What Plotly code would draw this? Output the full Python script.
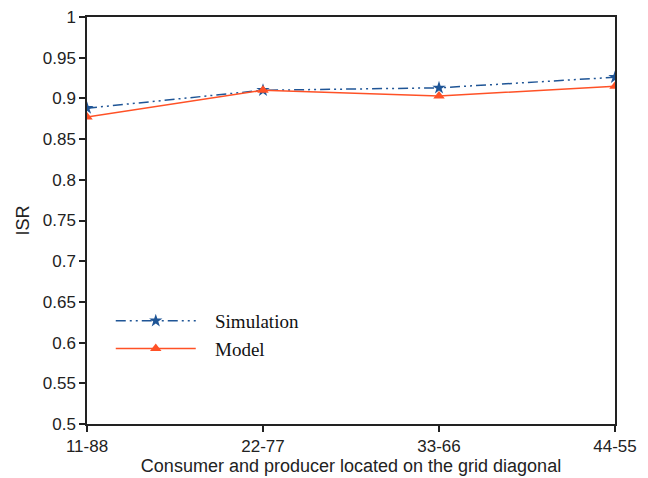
import plotly.graph_objects as go

# Consumer/producer position pairs along the grid diagonal
pairs = ["11-88", "22-77", "33-66", "44-55"]
simulation_isr = [0.888, 0.910, 0.913, 0.926]
model_isr = [0.877, 0.910, 0.903, 0.915]
series_names = ["Simulation", "Model"]

y_ticks = [0.5, 0.55, 0.6, 0.65, 0.7, 0.75, 0.8, 0.85, 0.9, 0.95, 1.0]
y_tick_text = ["0.5", "0.55", "0.6", "0.65", "0.7", "0.75", "0.8", "0.85", "0.9", "0.95", "1"]

BLUE = "#1f5596"
ORANGE = "#ff5126"
GAP = "\u00a0\u00a0\u00a0"  # extra room between legend symbol and label

fig = go.Figure()
fig.add_trace(go.Scatter(
    x=pairs, y=simulation_isr, name=GAP + series_names[0], mode="lines+markers",
    line=dict(color=BLUE, width=1.5, dash="10px,4px,2px,4px,2px,4px"),
    marker=dict(symbol="star", size=10, color=BLUE),
))
fig.add_trace(go.Scatter(
    x=pairs, y=model_isr, name=GAP + series_names[1], mode="lines+markers",
    line=dict(color=ORANGE, width=1.5),
    marker=dict(symbol="triangle-up", size=10, color=ORANGE),
))

tick_font = dict(family="Liberation Sans, Arial, sans-serif", size=17, color="#222")
title_font = dict(family="Liberation Sans, Arial, sans-serif", size=18, color="#222")

fig.update_layout(
    width=648, height=478,
    margin=dict(l=87, r=33, t=17, b=54),
    paper_bgcolor="white", plot_bgcolor="white",
    font=tick_font,
    showlegend=True,
    legend=dict(
        x=0.045, y=0.3, xanchor="left", yanchor="top",
        bgcolor="rgba(0,0,0,0)", borderwidth=0,
        itemwidth=80,
        font=dict(family="Liberation Serif, Times New Roman, serif", size=19, color="#111"),
        tracegroupgap=0,
    ),
    xaxis=dict(
        type="category", range=[0, 3], automargin=False,
        showline=True, linecolor="#222", linewidth=1.5, mirror=True,
        ticks="outside", ticklen=6, tickcolor="#222", tickwidth=1.5,
        showgrid=False, zeroline=False,
        title=dict(text="Consumer and producer located on the grid diagonal",
                   font=title_font, standoff=0),
        tickfont=tick_font,
    ),
    yaxis=dict(
        range=[0.5, 1.0], tickvals=y_ticks, ticktext=y_tick_text, automargin=False,
        showline=True, linecolor="#222", linewidth=1.5, mirror=True,
        ticks="outside", ticklen=6, tickcolor="#222", tickwidth=1.5,
        showgrid=False, zeroline=False,
        title=dict(text="ISR", font=title_font, standoff=8),
        tickfont=tick_font,
    ),
)

fig.write_html("out.html")
